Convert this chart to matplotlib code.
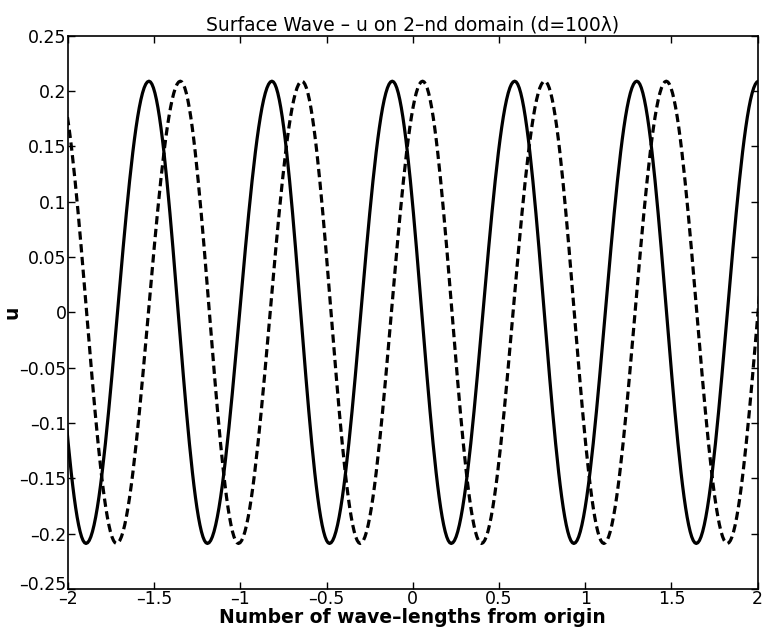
import numpy as np
import matplotlib.pyplot as plt
import matplotlib.transforms as mtransforms

# extrema (x position, u value), one point per crest/trough
solid_x = [-2.23, -1.895, -1.530, -1.191, -0.817, -0.483, -0.119, 0.223, 0.591, 0.934, 1.299, 1.644, 2.005, 2.35]
solid_u = [0.209, -0.209, 0.209, -0.209, 0.209, -0.209, 0.209, -0.209, 0.209, -0.209, 0.209, -0.209, 0.209, -0.209]

dashed_x = [-2.065, -1.718, -1.348, -1.011, -0.643, -0.305, 0.057, 0.398, 0.765, 1.108, 1.470, 1.824, 2.18]
dashed_u = [0.209, -0.209, 0.209, -0.209, 0.209, -0.209, 0.209, -0.209, 0.209, -0.209, 0.209, -0.209, 0.209]

xticks = [-2, -1.5, -1, -0.5, 0, 0.5, 1, 1.5, 2]
xtick_labels = ['\u20132', '\u20131.5', '\u20131', '\u20130.5', '0', '0.5', '1', '1.5', '2']
yticks = [-0.25, -0.2, -0.15, -0.1, -0.05, 0, 0.05, 0.1, 0.15, 0.2, 0.25]
ytick_labels = ['\u20130.25', '\u20130.2', '\u20130.15', '\u20130.1', '\u20130.05', '0',
                '0.05', '0.1', '0.15', '0.2', '0.25']


def smooth(xs, us, n=40):
    # join neighbouring crest and trough with a half cosine
    px, pu = [], []
    for i in range(len(xs) - 1):
        t = np.linspace(0, 1, n)
        mid = (us[i] + us[i + 1]) / 2
        half = (us[i] - us[i + 1]) / 2
        px.extend(xs[i] + (xs[i + 1] - xs[i]) * t)
        pu.extend(mid + half * np.cos(np.pi * t))
    return np.array(px), np.array(pu)


plt.rcParams['font.family'] = ['DejaVu Sans']

fig, ax = plt.subplots(figsize=(7.63, 6.4), dpi=100)
fig.subplots_adjust(left=0.089, right=0.993, top=0.944, bottom=0.08)

sx, su = smooth(solid_x, solid_u)
dx, du = smooth(dashed_x, dashed_u)
ax.plot(sx, su, color='black', linewidth=2.3)
ax.plot(dx, du, color='black', linewidth=2.3, linestyle=(0, (2.6, 1.4)))

ax.set_xlim(-2, 2)
ax.set_ylim(-0.25, 0.25)
ax.set_xticks(xticks)
ax.set_xticklabels(xtick_labels)
ax.set_yticks(yticks)
ax.set_yticklabels(ytick_labels)
ax.tick_params(direction='in', top=True, right=True, length=5, width=1,
               labelsize=12.5, pad=1)
for s in ax.spines.values():
    s.set_linewidth(1.2)

# lift the lowest y label a little, as in the original
lab = ax.get_yticklabels()[0]
lab.set_transform(lab.get_transform() + mtransforms.ScaledTranslation(0, 6 / 100, fig.dpi_scale_trans))

ax.set_title('Surface Wave \u2013 u on 2\u2013nd domain (d=100\u03bb)', fontsize=13.5, pad=4)
ax.set_xlabel('Number of wave\u2013lengths from origin', fontsize=13.5, fontweight='bold', labelpad=0)
ax.set_ylabel('u', fontsize=13.5, fontweight='bold')
ax.yaxis.set_label_coords(-0.068, 0.5)

plt.savefig('out.png', dpi=100)
